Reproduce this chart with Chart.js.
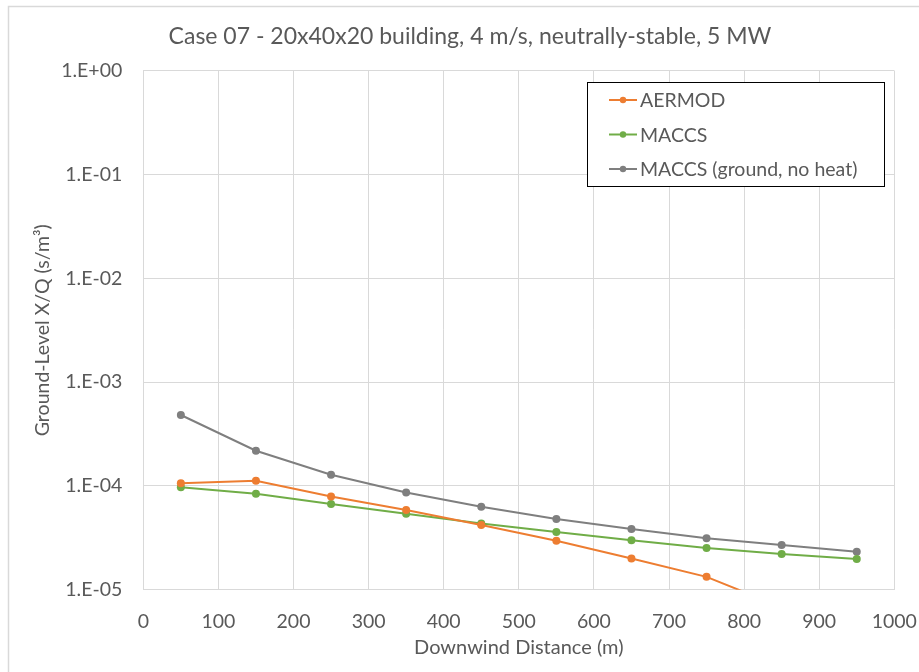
<!DOCTYPE html>
<html>
<head>
<meta charset="utf-8">
<script src="https://cdn.jsdelivr.net/npm/chart.js@4/dist/chart.umd.min.js"></script>
<style>
  html, body { margin: 0; padding: 0; background: #ffffff; }
  #wrap { position: relative; width: 919px; height: 672px; }
</style>
</head>
<body>
<div id="wrap"><canvas id="chart" width="919" height="672"></canvas></div>
<script>
// Downwind distances (m)
const distances = [50, 150, 250, 350, 450, 550, 650, 750, 850, 950];

// Ground-level X/Q (s/m^3)
const aermod = [1.06e-4, 1.12e-4, 7.9e-5, 5.85e-5, 4.2e-5, 2.96e-5, 2.0e-5, 1.33e-5, 6.8e-6, 4.6e-6];
const maccs = [9.7e-5, 8.4e-5, 6.7e-5, 5.4e-5, 4.35e-5, 3.6e-5, 2.99e-5, 2.52e-5, 2.21e-5, 1.98e-5];
const maccsGroundNoHeat = [4.82e-4, 2.18e-4, 1.28e-4, 8.65e-5, 6.3e-5, 4.8e-5, 3.84e-5, 3.13e-5, 2.7e-5, 2.32e-5];

// Axis ticks
const yTickValues = [1e-5, 1e-4, 1e-3, 1e-2, 1e-1, 1];
const yTickLabels = ['1.E-05', '1.E-04', '1.E-03', '1.E-02', '1.E-01', '1.E+00'];

const titleText = 'Case 07 - 20x40x20 building, 4 m/s, neutrally-stable, 5 MW';

const FONT = 'Lato, "Open Sans", sans-serif';
const TEXT = '#595959';
const GRID = '#D9D9D9';

function series(values) {
  return distances.map((d, i) => ({ x: d, y: values[i] }));
}

function lineDataset(label, values, color) {
  return {
    label,
    data: series(values),
    borderColor: color,
    backgroundColor: color,
    borderWidth: 2,
    pointRadius: 4,
    pointHoverRadius: 4,
    pointBorderWidth: 0,
    tension: 0,
    clip: 0
  };
}

// Light frame around the whole chart, plus the chart title
const frame = {
  id: 'frame',
  beforeDraw(chart) {
    const ctx = chart.ctx;
    ctx.save();
    ctx.fillStyle = '#ffffff';
    ctx.fillRect(0, 0, chart.width, chart.height);
    ctx.strokeStyle = GRID;
    ctx.lineWidth = 1.5;
    ctx.strokeRect(8.5, 6.5, chart.width + 10, chart.height + 10);
    ctx.fillStyle = TEXT;
    ctx.font = '23px ' + FONT;
    ctx.textAlign = 'center';
    ctx.textBaseline = 'middle';
    ctx.fillText(titleText, 470, 37);
    ctx.restore();
  }
};

// Boxed legend drawn inside the plot area, top right
const boxLegend = {
  id: 'boxLegend',
  afterDraw(chart) {
    const ctx = chart.ctx;
    const x0 = 587.5, y0 = 82.5, w = 297, h = 104;
    ctx.save();
    ctx.fillStyle = '#ffffff';
    ctx.fillRect(x0, y0, w, h);
    ctx.strokeStyle = '#000000';
    ctx.lineWidth = 1;
    ctx.strokeRect(x0, y0, w, h);
    ctx.font = '19.5px ' + FONT;
    ctx.textBaseline = 'middle';
    ctx.textAlign = 'left';
    chart.data.datasets.forEach((ds, i) => {
      const cy = 100 + i * 34.5;
      ctx.strokeStyle = ds.borderColor;
      ctx.lineWidth = 2;
      ctx.beginPath();
      ctx.moveTo(609, cy);
      ctx.lineTo(637, cy);
      ctx.stroke();
      ctx.fillStyle = ds.borderColor;
      ctx.beginPath();
      ctx.arc(623, cy, 3.2, 0, Math.PI * 2);
      ctx.fill();
      ctx.fillStyle = TEXT;
      ctx.fillText(ds.label, 640, cy + 1);
    });
    ctx.restore();
  }
};

new Chart(document.getElementById('chart'), {
  type: 'line',
  data: {
    datasets: [
      lineDataset('AERMOD', aermod, '#ED7D31'),
      lineDataset('MACCS', maccs, '#70AD47'),
      lineDataset('MACCS (ground, no heat)', maccsGroundNoHeat, '#7F7F7F')
    ]
  },
  options: {
    responsive: false,
    animation: false,
    events: [],
    layout: { padding: { left: 12, right: 24.7, top: 70.7, bottom: 0 } },
    plugins: {
      legend: { display: false },
      tooltip: { enabled: false },
      title: { display: false }
    },
    scales: {
      x: {
        type: 'linear',
        min: 0,
        max: 1000,
        grid: { color: GRID, lineWidth: 1, drawTicks: false },
        border: { color: GRID, width: 1 },
        ticks: {
          stepSize: 100,
          padding: 20,
          color: TEXT,
          font: { family: FONT, size: 19.5 },
          maxRotation: 0,
          callback(value) { return String(value); }
        },
        title: {
          display: true,
          text: 'Downwind Distance (m)',
          color: TEXT,
          font: { family: FONT, size: 20, lineHeight: 1.2 },
          padding: { top: 6, bottom: 12 }
        },
        afterFit(scale) {
          scale.height = 82.3;
          scale.paddingLeft = 0;
          scale.paddingRight = 0;
        }
      },
      y: {
        type: 'logarithmic',
        min: 1e-5,
        max: 1,
        grid: { color: GRID, lineWidth: 1, drawTicks: false },
        border: { color: GRID, width: 1 },
        ticks: {
          padding: 21,
          color: TEXT,
          font: { family: FONT, size: 19.5 },
          callback(value) {
            const i = yTickValues.findIndex(v => Math.abs(Math.log10(v) - Math.log10(value)) < 1e-6);
            return i >= 0 ? yTickLabels[i] : '';
          }
        },
        afterBuildTicks(scale) {
          scale.ticks = yTickValues.map(v => ({ value: v }));
        },
        title: {
          display: true,
          text: 'Ground-Level X/Q (s/m³)',
          color: TEXT,
          font: { family: FONT, size: 19.5, lineHeight: 1.2 },
          padding: { top: 19, bottom: 10 }
        },
        afterFit(scale) {
          scale.width = 143.3 - 12;
          scale.paddingTop = 0;
          scale.paddingBottom = 0;
        }
      }
    }
  },
  plugins: [frame, boxLegend]
});
</script>
</body>
</html>
